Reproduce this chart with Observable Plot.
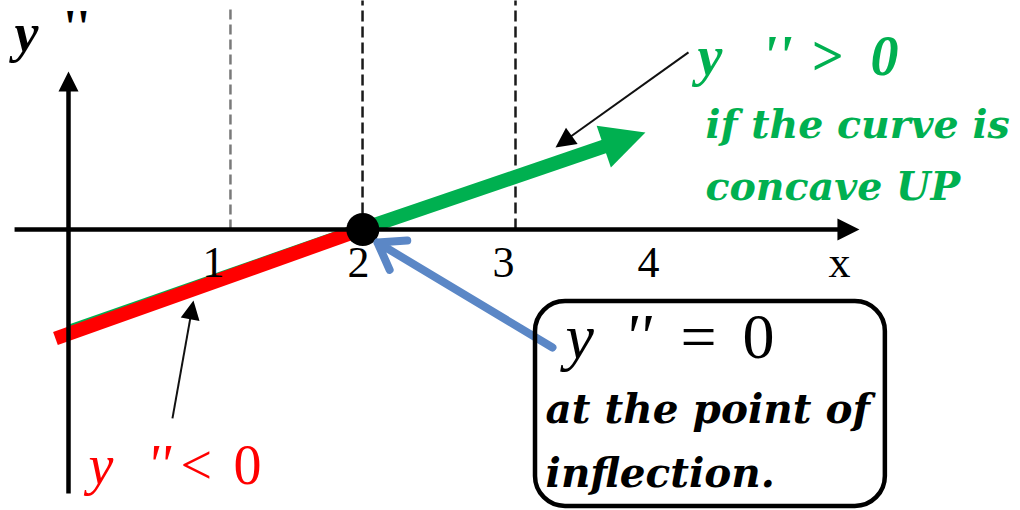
<!DOCTYPE html>
<html>
<head>
<meta charset="utf-8">
<script src="https://cdn.jsdelivr.net/npm/d3@7"></script>
<script src="https://cdn.jsdelivr.net/npm/@observablehq/plot@0.6"></script>
<style>body{margin:0;background:#fff;} #chart svg{display:block;}</style>
</head>
<body>
<div id="chart"></div>
<script>
// ---- data (in plot units) ----
const xTicks = [1, 2, 3, 4];
const xTickLabels = ["1", "2", "3", "4"];
const axisLabelX = "x";
const guideX = [1.117, 2.028, 3.083];
const guideTop = [1.545, 1.579, 1.579];
const downX = [-0.09, 2.02];      // y'' < 0 part (red)
const downY = [-0.752, 0];
const thinX = [0, 1.95];          // thin green edge above the red
const thinY = [-0.666, 0.018];
const upX = [2.02, 3.979];        // y'' > 0 part (green)
const upY = [0, 0.669];
const inflectionX = [2.03];
const inflectionY = [0];

// ---- layout ----
const xDomain = [-0.469, 6.566];
const yDomain = [-1.938, 1.579];
const U = 1020 / (xDomain[1] - xDomain[0]); // px per unit (same both axes)

const xAxisLine = {x1: -0.372, y1: 0, x2: 5.455, y2: 0};
const yAxisLine = {x1: 0, y1: -1.821, x2: 0, y2: 1.090};
const blueArrow = {x1: 3.338, y1: -0.814, x2: 2.131, y2: -0.090};
const upperPointer = {x1: 4.276, y1: 1.221, x2: 3.359, y2: 0.566};
const lowerPointer = {x1: 0.717, y1: -1.303, x2: 0.862, y2: -0.490};
const box = {x1: 3.221, x2: 5.634, y1: -0.497, y2: -1.910};

function dir(s) { const dx = s.x2 - s.x1, dy = s.y2 - s.y1, l = Math.hypot(dx, dy); return [dx / l, dy / l]; }
function angleOf(s) { return Math.atan2(-(s.y2 - s.y1), s.x2 - s.x1) * 180 / Math.PI + 90; }
function shorten(s, px) { const [ux, uy] = dir(s); return {x1: s.x1, y1: s.y1, x2: s.x2 - ux * px / U, y2: s.y2 - uy * px / U}; }
function head(s, len) { return {x: s.x2, y: s.y2, r: len, angle: angleOf(s)}; }

const headSym = {
  draw(ctx, size) {
    const L = Math.sqrt(size / Math.PI), w = L / 2;
    ctx.moveTo(0, 0); ctx.lineTo(-w, L); ctx.lineTo(w, L); ctx.closePath();
  }
};

const upSeg = {x1: upX[0], y1: upY[0], x2: upX[1], y2: upY[1]};
const greenHead = [head(upSeg, 44)];
const blackHeads = [head(xAxisLine, 22), head(yAxisLine, 20), head(upperPointer, 20), head(lowerPointer, 19)];

const tickBase = -0.331;
const ticks = xTicks.map((x, i) => ({x, y: tickBase, t: xTickLabels[i]})).concat([{x: 5.317, y: tickBase, t: axisLabelX}]);

const pts = (X, Y) => X.map((x, i) => ({x, y: Y[i]}));
const guides = guideX.map((x, i) => ({x, y1: 0, y2: guideTop[i]}));

// label pieces
const topLeft = [{x: -0.372, y: 1.234, t: "y"}, {x: -0.035, y: 1.283, t: "''"}];
const greenMath = [{x: 4.338, t: "y"}, {x: 4.78, t: "''"}, {x: 5.117, t: ">"}, {x: 5.531, t: "0"}].map(d => ({...d, y: 1.062}));
const greenText = [{x: 4.393, y: 0.628, t: "if the curve is"}, {x: 4.393, y: 0.20, t: "concave UP"}];
const redItalic = [{x: 0.138, t: "y"}, {x: 0.54, t: "''"}].map(d => ({...d, y: -1.752}));
const redUpright = [{x: 0.772, t: "<"}, {x: 1.138, t: "0"}].map(d => ({...d, y: -1.752}));
const boxItalic = [{x: 3.428, t: "y"}, {x: 3.83, t: "''"}].map(d => ({...d, y: -0.883}));
const boxUpright = [{x: 4.221, t: "="}, {x: 4.648, t: "0"}].map(d => ({...d, y: -0.883}));
const boxText = [{x: 3.290, y: -1.338, t: "at the point of"}, {x: 3.290, y: -1.779, t: "inflection."}];

const serif = "'Liberation Serif', 'Times New Roman', serif";
const wide = "'DejaVu Serif', serif";
const T = (data, o) => Plot.text(data, {x: "x", y: "y", text: "t", textAnchor: "start", lineAnchor: "bottom", fontFamily: serif, ...o});

const chart = Plot.plot({
  width: 1020, height: 510, margin: 0,
  x: {domain: xDomain, axis: null},
  y: {domain: yDomain, axis: null},
  r: {type: "identity"},
  style: {background: "white", overflow: "visible"},
  marks: [
    Plot.link([guides[0]], {x1: "x", x2: "x", y1: "y1", y2: "y2", stroke: "#7a7a7a", strokeWidth: 2.5, strokeDasharray: "10,5"}),
    Plot.link(guides.slice(1), {x1: "x", x2: "x", y1: "y1", y2: "y2", stroke: "#1a1a1a", strokeWidth: 2.5, strokeDasharray: "11,5"}),
    Plot.line(pts(thinX, thinY), {x: "x", y: "y", stroke: "#00b050", strokeWidth: 2.5, strokeLinecap: "butt"}),
    Plot.line(pts(downX, downY), {x: "x", y: "y", stroke: "#ff0000", strokeWidth: 14, strokeLinecap: "butt"}),
    Plot.link([shorten(upSeg, 24)], {x1: "x1", y1: "y1", x2: "x2", y2: "y2", stroke: "#00b050", strokeWidth: 14, strokeLinecap: "butt"}),
    Plot.dot(greenHead, {x: "x", y: "y", r: "r", rotate: "angle", symbol: headSym, fill: "#00b050", stroke: "none"}),
    Plot.link([shorten(xAxisLine, 10), shorten(yAxisLine, 10)], {x1: "x1", y1: "y1", x2: "x2", y2: "y2", stroke: "black", strokeWidth: 4.5, strokeLinecap: "butt"}),
    Plot.link([shorten(upperPointer, 8), shorten(lowerPointer, 8)], {x1: "x1", y1: "y1", x2: "x2", y2: "y2", stroke: "#111", strokeWidth: 2, strokeLinecap: "butt"}),
    Plot.dot(blackHeads, {x: "x", y: "y", r: "r", rotate: "angle", symbol: headSym, fill: "black", stroke: "none"}),
    Plot.dot(pts(inflectionX, inflectionY), {x: "x", y: "y", r: 16.5, fill: "black", stroke: "none"}),
    Plot.arrow([blueArrow], {x1: "x1", y1: "y1", x2: "x2", y2: "y2", stroke: "#5b87c6", strokeWidth: 8, headLength: 5.6, headAngle: 70}),
    Plot.rect([box], {x1: "x1", x2: "x2", y1: "y1", y2: "y2", rx: 30, fill: "none", stroke: "black", strokeWidth: 4.5}),
    Plot.text(ticks, {x: "x", y: "y", text: "t", textAnchor: "middle", lineAnchor: "bottom", fontFamily: serif, fontSize: 44, fill: "black"}),
    T([topLeft[0]], {fontSize: 54, fontStyle: "italic", fontWeight: "bold", fill: "black"}),
    T([topLeft[1]], {fontSize: 48, fontWeight: "bold", fill: "black"}),
    T(greenMath, {fontSize: 56, fontStyle: "italic", fontWeight: "bold", fill: "#00b050"}),
    T(greenText, {fontSize: 39.5, fontStyle: "italic", fontWeight: "bold", fontFamily: wide, fill: "#00b050"}),
    T(redItalic, {fontSize: 56, fontStyle: "italic", fill: "#ff0000"}),
    T(redUpright, {fontSize: 56, fill: "#ff0000"}),
    T(boxItalic, {fontSize: 64, fontStyle: "italic", fill: "black"}),
    T(boxUpright, {fontSize: 64, fill: "black"}),
    T(boxText, {fontSize: 40.5, fontStyle: "italic", fontWeight: "bold", fontFamily: wide, fill: "black"})
  ]
});
document.getElementById("chart").appendChild(chart);
</script>
</body>
</html>
